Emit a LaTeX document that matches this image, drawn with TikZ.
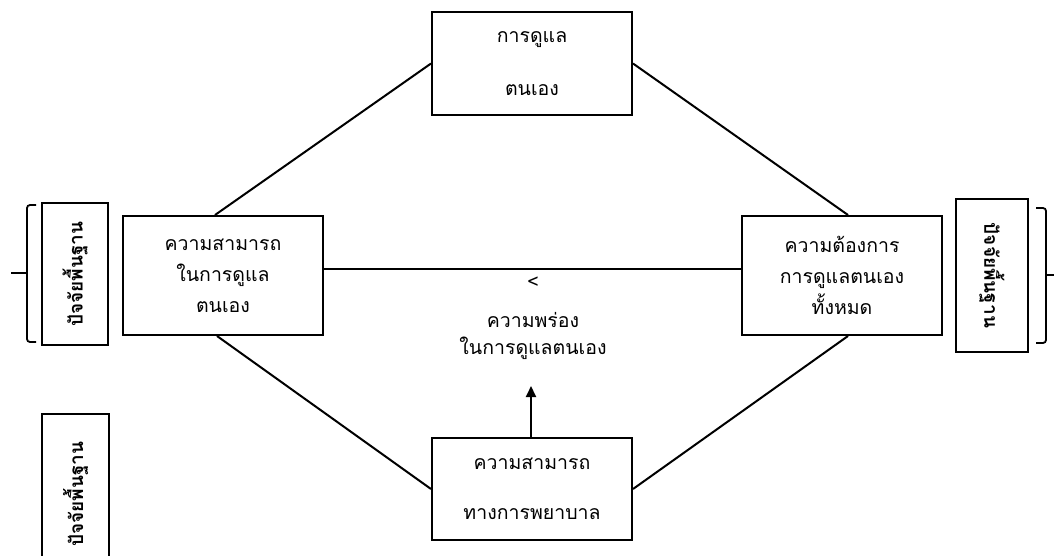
\documentclass[tikz,border=0pt]{standalone}
\usepackage{fontspec}
\newfontfamily\thai[Script=Thai]{Loma}
\usetikzlibrary{arrows.meta}
\begin{document}
\begin{tikzpicture}[x=1pt,y=-1pt,
  box/.style={draw=black,line width=2pt,inner sep=0pt,align=center,
    font=\thai\fontsize{19.5}{31}\selectfont},
  vbox/.style={draw=black,line width=2pt,inner sep=0pt,
    font=\thai\bfseries\fontsize{19}{20}\selectfont},
  link/.style={line width=2pt},
  brace/.style={line width=1.8pt,rounded corners=3pt}]
\useasboundingbox (0,0) rectangle (1054,555);
\node[box,minimum width=200,minimum height=103] (care) at (532,63.5) {การดูแล\\[22pt]ตนเอง};
\node[box,minimum width=200,minimum height=119] (ability) at (223,275.5) {ความสามารถ\\ในการดูแล\\ตนเอง};
\node[box,minimum width=200,minimum height=119] (demand) at (842,275.5) {ความต้องการ\\การดูแลตนเอง\\ทั้งหมด};
\node[box,minimum width=200,minimum height=102] (nursing) at (532,489) {ความสามารถ\\[19pt]ทางการพยาบาล};
\node[font=\thai\fontsize{19.5}{27}\selectfont,align=center,inner sep=0pt] (deficit) at (533,318) {<\\[12pt]ความพร่อง\\ในการดูแลตนเอง};
\node[vbox,minimum width=142,minimum height=66,rotate=90] (bfL) at (75,274) {ปัจจัยพื้นฐาน};
\node[vbox,minimum width=153,minimum height=72,rotate=-90] (bfR) at (992,275.5) {ปัจจัยพื้นฐาน};
\node[vbox,minimum width=160,minimum height=67,rotate=90] (bfB) at (75.5,494) {ปัจจัยพื้นฐาน};
\coordinate (tip) at (531,386);
\draw[link] (care.west) -- ([xshift=-8]ability.north);
\draw[link] (care.east) -- ([xshift=6]demand.north);
\draw[link] ([xshift=-6]ability.south) -- (nursing.west);
\draw[link] ([xshift=6]demand.south) -- (nursing.east);
\draw[link] ([yshift=6.5]ability.east) -- ([yshift=6.5]demand.west);
\draw[link,-{Triangle[length=11pt,width=10pt]}] ([xshift=-1]nursing.north) -- (tip);
\draw[brace] (36,205) -- (27,205) -- (27,342) -- (36,342);
\draw[brace] (27,273) -- (11,273);
\draw[brace] (1036,208) -- (1046,208) -- (1046,343) -- (1036,343);
\draw[brace] (1046,275) -- (1054,275);
\end{tikzpicture}
\end{document}
